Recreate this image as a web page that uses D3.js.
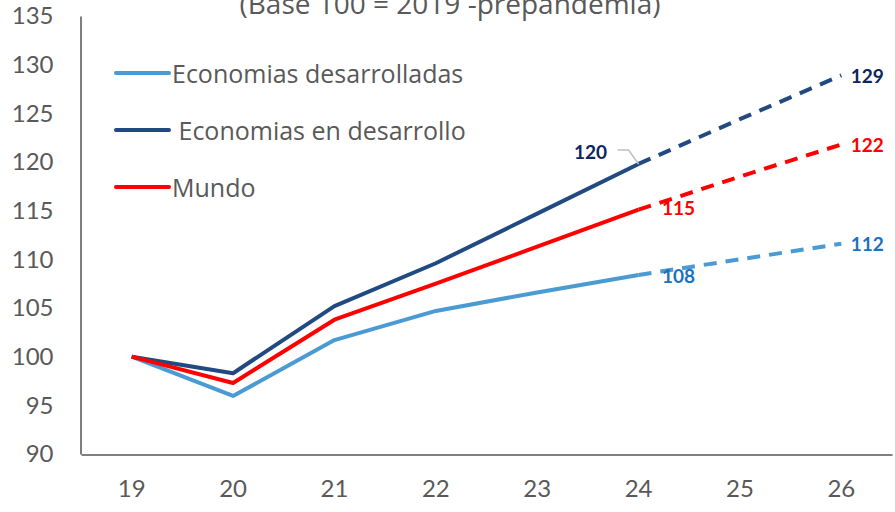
<!DOCTYPE html>
<html>
<head>
<meta charset="utf-8">
<script src="https://cdn.jsdelivr.net/npm/d3@7"></script>
<style>
  html, body { margin: 0; padding: 0; background: #fff; }
  svg { display: block; font-family: Lato, "Open Sans", sans-serif; }
</style>
</head>
<body>
<div id="chart"></div>
<script>
// categories (years, 2019..2026)
const years = ["19", "20", "21", "22", "23", "24", "25", "26"];
const yTicks = [90, 95, 100, 105, 110, 115, 120, 125, 130, 135];

// index values, base 100 = 2019
const desarrolladas = [100, 95.96, 101.7, 104.7, 106.6, 108.4, 110.0, 111.6];
const enDesarrollo = [100, 98.3, 105.2, 109.6, 114.7, 119.8, 124.4, 128.9];
const mundo = [100, 97.3, 103.8, 107.5, 111.3, 115.1, 118.5, 121.8];

const lastActual = "24";

const width = 895;
const height = 512;

const series = [
  { name: "Economias desarrolladas", values: desarrolladas, color: "#4a9ad3", label: "#1a72c2" },
  { name: " Economias en desarrollo", values: enDesarrollo, color: "#204a80", label: "#0b2560" },
  { name: "Mundo", values: mundo, color: "#ff0000", label: "#ff0000" }
];

const svg = d3.select("#chart")
  .append("svg")
  .attr("width", width)
  .attr("height", height);

// scales
const x = d3.scaleBand()
  .domain(years)
  .range([81, 892]);

const y = d3.scaleLinear()
  .domain([90, 135])
  .range([454, 16]);

const cx = d => x(d) + x.bandwidth() / 2;

// title (cut off at the top, as in the original)
svg.append("text")
  .attr("x", 450)
  .attr("y", 14)
  .attr("text-anchor", "middle")
  .style("font-family", "'Open Sans', sans-serif")
  .style("font-size", "28px")
  .style("fill", "#595959")
  .text("(Base 100 = 2019 -prepandemia)");

// axes
const yAxis = svg.append("g")
  .attr("transform", "translate(80.5,0)")
  .call(d3.axisLeft(y).tickValues(yTicks).tickSize(0).tickPadding(27));

const xAxis = svg.append("g")
  .attr("transform", "translate(0,454.5)")
  .call(d3.axisBottom(x).tickSize(0).tickPadding(25));

[yAxis, xAxis].forEach(g => {
  g.select(".domain").attr("stroke", "#7f7f7f").attr("stroke-width", 2);
  g.selectAll("text")
    .style("font-family", "Lato, 'Open Sans', sans-serif")
    .style("font-size", "24px")
    .style("fill", "#595959");
});

// lines: solid for actuals, dashed for projections
const line = d3.line()
  .x(d => cx(d.year))
  .y(d => y(d.value));

const cut = years.indexOf(lastActual);

series.forEach(s => {
  const pts = years.map((yr, i) => ({ year: yr, value: s.values[i] }));
  svg.append("path")
    .datum(pts.slice(0, cut + 1))
    .attr("d", line)
    .attr("fill", "none")
    .attr("stroke", s.color)
    .attr("stroke-width", 4)
    .attr("stroke-linejoin", "round");
  svg.append("path")
    .datum(pts.slice(cut))
    .attr("d", line)
    .attr("fill", "none")
    .attr("stroke", s.color)
    .attr("stroke-width", 4)
    .attr("stroke-dasharray", "13,9");
});

// data labels
const labelData = [
  { s: 1, i: 5, dx: -48, dy: -12 },
  { s: 1, i: 7, dx: 26, dy: 0 },
  { s: 2, i: 5, dx: 40, dy: -2 },
  { s: 2, i: 7, dx: 26, dy: 0 },
  { s: 0, i: 5, dx: 40, dy: 1 },
  { s: 0, i: 7, dx: 26, dy: 0 }
];

labelData.forEach(d => {
  const s = series[d.s];
  const v = s.values[d.i];
  svg.append("text")
    .attr("x", cx(years[d.i]) + d.dx)
    .attr("y", y(v) + d.dy)
    .attr("text-anchor", "middle")
    .attr("dominant-baseline", "central")
    .style("font-size", "19px")
    .style("font-weight", "bold")
    .style("fill", s.label)
    .text(Math.round(v));
});

// leader line for the 120 label
const p24 = [cx("24"), y(enDesarrollo[5])];
svg.append("polyline")
  .attr("points", [[p24[0] - 21, p24[1] - 14], [p24[0] - 10, p24[1] - 14], p24].map(p => p.join(",")).join(" "))
  .attr("fill", "none")
  .attr("stroke", "#bfbfbf")
  .attr("stroke-width", 1.5);

// legend
const legend = svg.append("g");
series.forEach((s, i) => {
  const ly = [73, 130, 187][i];
  legend.append("line")
    .attr("x1", 116).attr("x2", 169)
    .attr("y1", ly).attr("y2", ly)
    .attr("stroke", s.color)
    .attr("stroke-width", 4)
    .attr("stroke-linecap", "round");
  legend.append("text")
    .attr("x", 172)
    .attr("y", ly)
    .attr("dominant-baseline", "central")
    .style("font-family", "'Open Sans', sans-serif")
    .style("font-size", "25px")
    .style("fill", "#595959")
    .attr("xml:space", "preserve")
    .text(s.name);
});
</script>
</body>
</html>
